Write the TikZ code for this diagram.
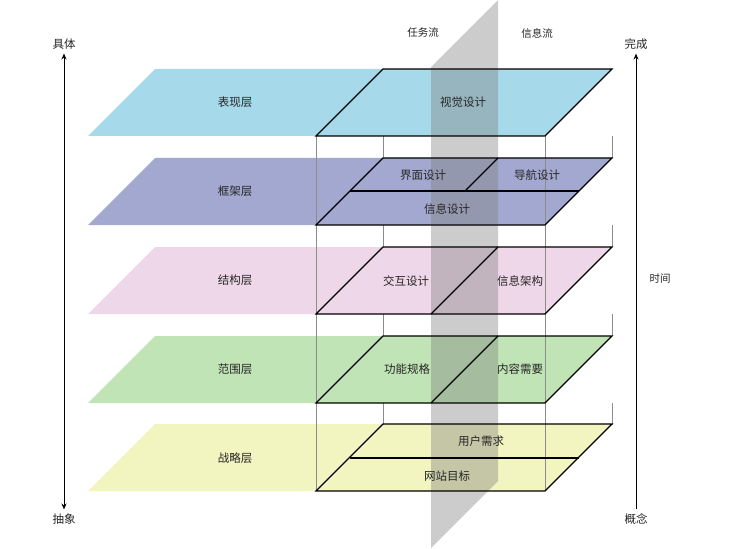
\documentclass[tikz,border=0pt]{standalone}
\usepackage{fontspec}
\setmainfont{Noto Sans CJK SC}
\usetikzlibrary{arrows.meta}
\begin{document}
\begin{tikzpicture}[x=1pt,y=-1pt,
  txt/.style={font=\fontsize{11.5}{13}\selectfont, inner sep=0pt, text=black!85},
  small/.style={font=\fontsize{10.5}{12}\selectfont, inner sep=0pt, text=black!85},
  bord/.style={draw=black, line width=1.1pt},
  back/.style={draw=gray!90, line width=0.8pt}]
\useasboundingbox (0,0) rectangle (735,548);
\definecolor{c1}{HTML}{A6D9E9}
\definecolor{c2}{HTML}{A2A8CF}
\definecolor{c3}{HTML}{EFD7EA}
\definecolor{c4}{HTML}{C0E4B5}
\definecolor{c5}{HTML}{F2F5C0}
% layer fills
\foreach \y/\c in {69/c1,158/c2,247/c3,336/c4,424/c5}{
  \fill[\c] (155,\y) -- (612,\y) -- (545,\y+67) -- (88,\y+67) -- cycle;
}
% back vertical lines
\draw[back] (316,136) -- (316,491);
\draw[back] (545,136) -- (545,491);
\foreach \y in {136,225,314,403}{
  \draw[back] (383,\y) -- (383,\y+22);
  \draw[back] (612,\y) -- (612,\y+22);
}
% strip
\fill[gray, opacity=0.4] (498,0) -- (498,481) -- (431,548) -- (431,67) -- cycle;
% borders
\foreach \y in {69,158,247,336,424}{
  \draw[bord] (383,\y) -- (612,\y) -- (545,\y+67) -- (316,\y+67) -- cycle;
}
\draw[bord] (350,191) -- (579,191);
\draw[bord] (498,158) -- (465,191);
\draw[bord] (498,247) -- (431,314);
\draw[bord] (498,336) -- (431,403);
\draw[bord] (350,458) -- (579,458);
% texts
\node[txt] (l1) at (235,102) {表现层};
\node[txt] (l2) at (235,191) {框架层};
\node[txt] (l3) at (235,280) {结构层};
\node[txt] (l4) at (235,369) {范围层};
\node[txt] (l5) at (235,458) {战略层};
\node[txt] (a1) at (463,102) {视觉设计};
\node[txt] (a2) at (423,175) {界面设计};
\node[txt] (a3) at (537,175) {导航设计};
\node[txt] (a4) at (447,209) {信息设计};
\node[txt] (a5) at (406,281) {交互设计};
\node[txt] (a6) at (520,281) {信息架构};
\node[txt] (a7) at (407,369) {功能规格};
\node[txt] (a8) at (520,369) {内容需要};
\node[txt] (a9) at (481,441) {用户需求};
\node[txt] (a10) at (447,476) {网站目标};
\node[small] (t1) at (423,33) {任务流};
\node[small] (t2) at (537,33) {信息流};
\node[txt] (ju) at (64,44) {具体};
\node[txt] (ch) at (64,519) {抽象};
\node[txt] (wc) at (636,44) {完成};
\node[txt] (gn) at (636,519) {概念};
\node[small] (sj) at (660,279) {时间};
\draw[line width=1pt, {Stealth[length=6pt,width=5pt]}-{Stealth[length=6pt,width=5pt]}] ([yshift=-4pt]ju.south) -- ([yshift=4pt]ch.north);
\draw[line width=1pt, -{Stealth[length=6pt,width=5pt]}] ([yshift=4pt]gn.north) -- ([yshift=-4pt]wc.south);
\end{tikzpicture}
\end{document}
